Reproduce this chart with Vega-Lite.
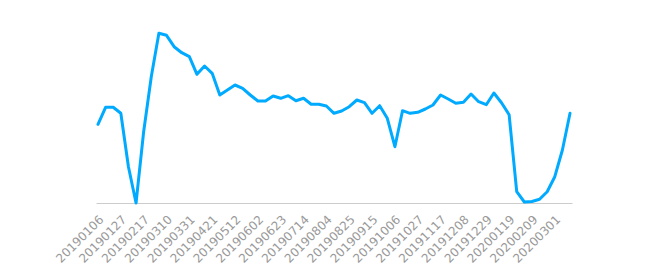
{
  "$schema": "https://vega.github.io/schema/vega-lite/v6.json",
  "width": 476,
  "height": 170,
  "autosize": "none",
  "padding": {"left": 96, "top": 33, "right": 75, "bottom": 72},
  "background": "white",
  "config": {"view": {"stroke": null}},
  "data": {"values": [
    {"date": "20190106", "value": 78.7},
    {"date": "20190113", "value": 95.7},
    {"date": "20190120", "value": 95.7},
    {"date": "20190127", "value": 89.7},
    {"date": "20190203", "value": 36.3},
    {"date": "20190210", "value": 0},
    {"date": "20190217", "value": 71.3},
    {"date": "20190224", "value": 126.3},
    {"date": "20190303", "value": 169.7},
    {"date": "20190310", "value": 167.7},
    {"date": "20190317", "value": 156.3},
    {"date": "20190324", "value": 150.3},
    {"date": "20190331", "value": 146.3},
    {"date": "20190407", "value": 128.7},
    {"date": "20190414", "value": 137},
    {"date": "20190421", "value": 129.7},
    {"date": "20190428", "value": 108},
    {"date": "20190505", "value": 113},
    {"date": "20190512", "value": 118},
    {"date": "20190519", "value": 114.7},
    {"date": "20190526", "value": 108},
    {"date": "20190602", "value": 102},
    {"date": "20190609", "value": 102},
    {"date": "20190616", "value": 107},
    {"date": "20190623", "value": 104.7},
    {"date": "20190630", "value": 107.3},
    {"date": "20190707", "value": 102.3},
    {"date": "20190714", "value": 104.7},
    {"date": "20190721", "value": 98.7},
    {"date": "20190728", "value": 98.7},
    {"date": "20190804", "value": 97},
    {"date": "20190811", "value": 89.7},
    {"date": "20190818", "value": 92},
    {"date": "20190825", "value": 96.3},
    {"date": "20190901", "value": 103},
    {"date": "20190908", "value": 100.3},
    {"date": "20190915", "value": 89.7},
    {"date": "20190922", "value": 97.3},
    {"date": "20190929", "value": 84.7},
    {"date": "20191006", "value": 56.3},
    {"date": "20191013", "value": 92.3},
    {"date": "20191020", "value": 89.7},
    {"date": "20191027", "value": 90.7},
    {"date": "20191103", "value": 94},
    {"date": "20191110", "value": 98},
    {"date": "20191117", "value": 108},
    {"date": "20191124", "value": 104},
    {"date": "20191201", "value": 99.7},
    {"date": "20191208", "value": 100.7},
    {"date": "20191215", "value": 109},
    {"date": "20191222", "value": 101.3},
    {"date": "20191229", "value": 98.3},
    {"date": "20200105", "value": 110},
    {"date": "20200112", "value": 100.3},
    {"date": "20200119", "value": 88.3},
    {"date": "20200126", "value": 11.3},
    {"date": "20200202", "value": 1},
    {"date": "20200209", "value": 1.5},
    {"date": "20200216", "value": 3.7},
    {"date": "20200223", "value": 11.3},
    {"date": "20200301", "value": 26.3},
    {"date": "20200308", "value": 53},
    {"date": "20200315", "value": 89.7}
  ]},
  "mark": {"type": "line", "color": "#00aaff", "strokeWidth": 3, "strokeJoin": "round", "strokeCap": "round"},
  "encoding": {
    "x": {
      "field": "date",
      "type": "ordinal",
      "sort": null,
      "scale": {"type": "point", "padding": 0.26},
      "axis": {
        "title": null,
        "values": ["20190106", "20190127", "20190217", "20190310", "20190331", "20190421", "20190512", "20190602", "20190623", "20190714", "20190804", "20190825", "20190915", "20191006", "20191027", "20191117", "20191208", "20191229", "20200119", "20200209", "20200301"],
        "labelAngle": -45,
        "labelAlign": "right",
        "labelBaseline": "middle",
        "labelFont": "DejaVu Sans",
        "labelFontSize": 12,
        "labelColor": "#999999",
        "labelPadding": 14,
        "labelOffset": 3,
        "labelOverlap": false,
        "ticks": false,
        "domainColor": "#cccccc",
        "domainWidth": 1,
        "grid": false
      }
    },
    "y": {
      "field": "value",
      "type": "quantitative",
      "scale": {"domain": [0, 170], "nice": false, "zero": true},
      "axis": null
    }
  }
}
